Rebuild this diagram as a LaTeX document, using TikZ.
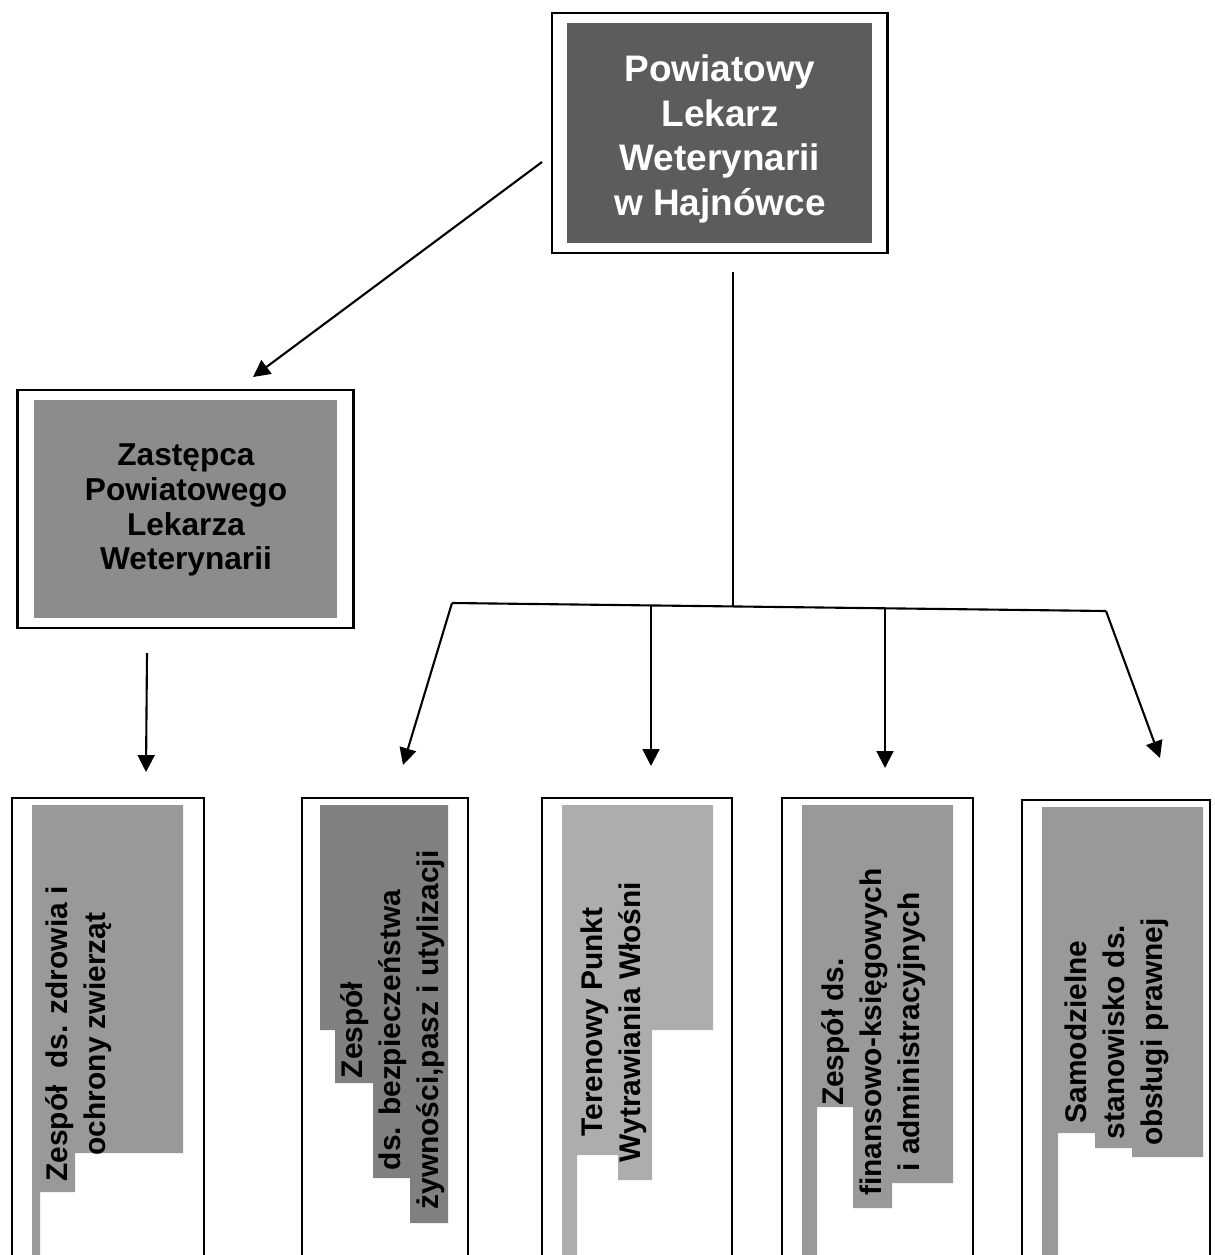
\documentclass[tikz,border=0pt]{standalone}
\usepackage{fontspec}
\setmainfont{Liberation Sans}
\usetikzlibrary{arrows.meta}

\definecolor{chiefgrey}{gray}{0.36}
\definecolor{deputygrey}{gray}{0.55}
\definecolor{darkunitgrey}{gray}{0.50}
\definecolor{unitgrey}{gray}{0.60}
\definecolor{lightunitgrey}{gray}{0.68}

\begin{document}
\begin{tikzpicture}[x=0.01cm, y=-0.01cm,
		link/.style={line width=0.6pt},
		arrowlink/.style={link, -{Triangle[length=4.8pt,width=4.8pt]}},
		outline/.style={draw, line width=0.8pt},
		shade box/.style={inner sep=0pt, outer sep=0pt},
		head text/.style={font=\bfseries\fontsize{10.5}{12.7}\selectfont, align=center, text=white},
		deputy text/.style={font=\bfseries\fontsize{9}{9.9}\selectfont, align=center},
		unit text/.style={font=\bfseries\fontsize{8.5}{10.8}\selectfont, align=center, rotate=90, inner sep=0pt}]

			\useasboundingbox (0,0) rectangle (1214,1255);
			\clip (0,0) rectangle (1214,1255);

			% head of the office
			\node [outline, minimum width=3.35cm, minimum height=2.4cm] (chief box) at (719.5,133) {};
			\node [shade box, fill=chiefgrey, minimum width=3.05cm, minimum height=2.2cm] (chief shade) at (chief box) {};
			\node [head text] (chief) at (720,139) {Powiatowy\\Lekarz\\Weterynarii\\w Hajnówce};

			% deputy
			\node [outline, minimum width=3.35cm, minimum height=2.38cm] (deputy box) at (185.5,509) {};
			\node [shade box, fill=deputygrey, minimum width=3.03cm, minimum height=2.18cm] (deputy shade) at (deputy box) {};
			\node [deputy text] (deputy) at (186,510) {Zastępca\\Powiatowego\\Lekarza\\Weterynarii};

			% units, cut off at the page foot
			\begin{scope}
				\fill [unitgrey] (32,805) -- (183,805) -- (183,1153) -- (75,1153) -- (75,1192) -- (40,1192) -- (40,1255) -- (32,1255) -- cycle;
				\fill [darkunitgrey] (320,805) -- (448,805) -- (448,1223) -- (410,1223) -- (410,1178) -- (373,1178) -- (373,1083) -- (335,1083) -- (335,1030) -- (320,1030) -- cycle;
				\fill [lightunitgrey] (562,805) -- (713,805) -- (713,1030) -- (652,1030) -- (652,1180) -- (618,1180) -- (618,1155) -- (577,1155) -- (577,1255) -- (562,1255) -- cycle;
				\fill [unitgrey] (802,805) -- (953,805) -- (953,1183) -- (892,1183) -- (892,1208) -- (853,1208) -- (853,1107) -- (817,1107) -- (817,1255) -- (802,1255) -- cycle;
				\fill [unitgrey] (1042,807) -- (1203,807) -- (1203,1157) -- (1132,1157) -- (1132,1148) -- (1095,1148) -- (1095,1133) -- (1058,1133) -- (1058,1255) -- (1042,1255) -- cycle;
			\end{scope}

			\begin{scope}[outline]
				\draw (12,798) rectangle (204,1275);
				\draw (302,798) rectangle (468,1275);
				\draw (542,798) rectangle (732,1275);
				\draw (782,798) rectangle (973,1275);
				\draw (1022,800) rectangle (1210,1275);
			\end{scope}

			\node [unit text] (unit 1) at (79,1034) {Zespół~~ds. zdrowia i\\ochrony zwierząt};
			\node [unit text] (unit 2) at (393,1030) {Zespół\\ds. bezpieczeństwa\\żywności,pasz i utylizacji};
			\node [unit text] (unit 3) at (614,1022) {Terenowy Punkt\\Wytrawiania Włośni};
			\node [unit text] (unit 4) at (874,1032) {Zespół ds.\\finansowo-księgowych\\i administracyjnych};
			\node [unit text] (unit 5) at (1117,1032) {Samodzielne\\stanowisko ds.\\obsługi prawnej};

			% connectors
			\coordinate (deputy link start) at (542,162);
			\coordinate (deputy link end) at (253,377);
			\coordinate (trunk top) at (733,272);
			\coordinate (trunk foot) at (733,606.4);
			\coordinate (bar left) at (452,603);
			\coordinate (bar right) at (1106,611);
			\coordinate (bar 3) at (651,605.4);
			\coordinate (bar 4) at (885,608.3);
			\coordinate (unit 1 link start) at (147,653);
			\coordinate (unit 1 link end) at (146,772);
			\coordinate (unit 2 link end) at (403,765);
			\coordinate (unit 3 link end) at (651,766);
			\coordinate (unit 4 link end) at (885,768);
			\coordinate (unit 5 link end) at (1160,758);

			\draw [arrowlink] (deputy link start) -- (deputy link end);
			\draw [link] (trunk top) -- (trunk foot);
			\draw [link] (bar left) -- (bar right);
			\draw [arrowlink] (unit 1 link start) -- (unit 1 link end);
			\foreach \from/\to in {bar left/unit 2 link end, bar 3/unit 3 link end, bar 4/unit 4 link end, bar right/unit 5 link end}
			{
				\draw [arrowlink] (\from) -- (\to);
			}
		\end{tikzpicture}
\end{document}
